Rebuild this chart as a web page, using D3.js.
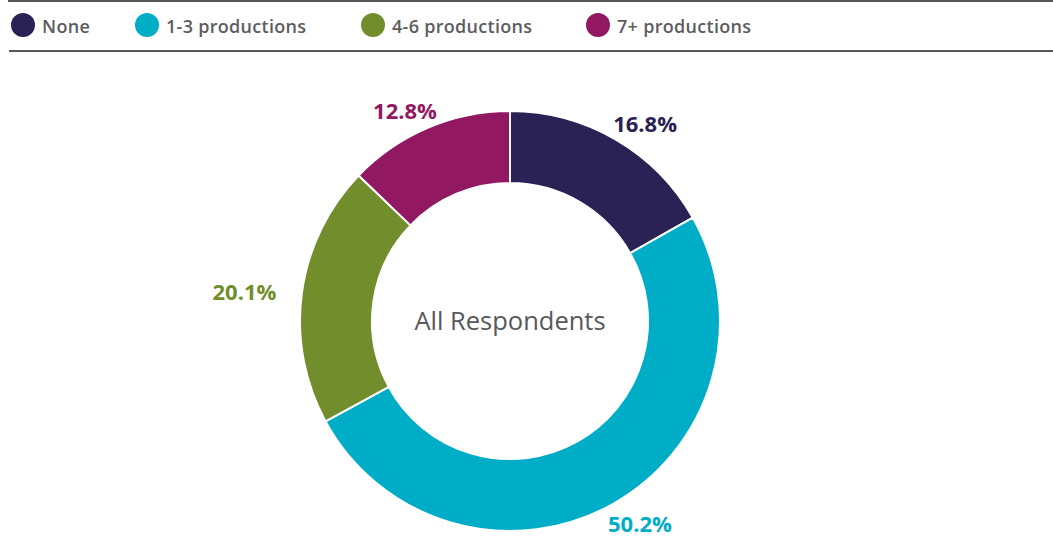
<!DOCTYPE html>
<html>
<head>
<meta charset="utf-8">
<script src="https://cdn.jsdelivr.net/npm/d3@7"></script>
<style>
  body { margin: 0; background: #fff; }
  text { font-family: "Open Sans", sans-serif; }
</style>
</head>
<body>
<svg id="chart"></svg>
<script>
// chart data
var categories = ["None", "1-3 productions", "4-6 productions", "7+ productions"];
var values = [16.8, 50.2, 20.1, 12.8];
var colors = ["#2a2254", "#00adc7", "#728d2b", "#921862"];
var centerLabel = "All Respondents";

var width = 1053,
    height = 538;

var svg = d3.select("#chart")
    .attr("width", width)
    .attr("height", height);

// legend box rules
svg.append("line")
    .attr("x1", 8).attr("x2", width)
    .attr("y1", 1).attr("y2", 1)
    .attr("stroke", "#58585b").attr("stroke-width", 2);
svg.append("line")
    .attr("x1", 9).attr("x2", width)
    .attr("y1", 51).attr("y2", 51)
    .attr("stroke", "#58585b").attr("stroke-width", 2);

// legend
var legendX = d3.scaleOrdinal()
    .domain(categories)
    .range([23, 147, 373, 598]);

var legend = svg.append("g")
    .selectAll("g")
    .data(categories)
    .enter()
    .append("g")
    .attr("transform", function(d) { return "translate(" + legendX(d) + ",25)"; });

legend.append("circle")
    .attr("r", 12)
    .attr("fill", function(d, i) { return colors[i]; });

legend.append("text")
    .attr("x", 19)
    .attr("y", 2)
    .attr("dy", "0.35em")
    .attr("fill", "#5d5d60")
    .style("font-size", "18px")
    .style("font-weight", 600)
    .style("letter-spacing", "0.3px")
    .text(function(d) { return d; });

// donut
var cx = 510, cy = 321;
var outerR = 210, innerR = 138;

var pie = d3.pie().sort(null).value(function(d) { return d; });
var arc = d3.arc().innerRadius(innerR).outerRadius(outerR);

var g = svg.append("g").attr("transform", "translate(" + cx + "," + cy + ")");

var slices = pie(values);

g.selectAll("path")
  .data(slices)
  .enter()
  .append("path")
  .attr("d", arc)
  .attr("fill", function(d, i) { return colors[i]; })
  .attr("stroke", "#fff")
  .attr("stroke-width", 2);

// labels placed on an ellipse around the ring
var labelRx = 268, labelRy = 230;
g.selectAll(".label")
  .data(slices)
  .enter()
  .append("text")
  .attr("class", "label")
  .attr("x", function(d) { return Math.sin((d.startAngle + d.endAngle) / 2) * labelRx; })
  .attr("y", function(d) { return -Math.cos((d.startAngle + d.endAngle) / 2) * labelRy + 2; })
  .attr("dy", "0.35em")
  .attr("text-anchor", "middle")
  .attr("fill", function(d, i) { return colors[i]; })
  .style("font-size", "22px")
  .style("font-weight", 700)
  .text(function(d) { return d.data.toFixed(1) + "%"; });

g.append("text")
  .attr("text-anchor", "middle")
  .attr("dy", "0.35em")
  .attr("fill", "#58585b")
  .style("font-size", "25.5px")
  .text(centerLabel);
</script>
</body>
</html>
